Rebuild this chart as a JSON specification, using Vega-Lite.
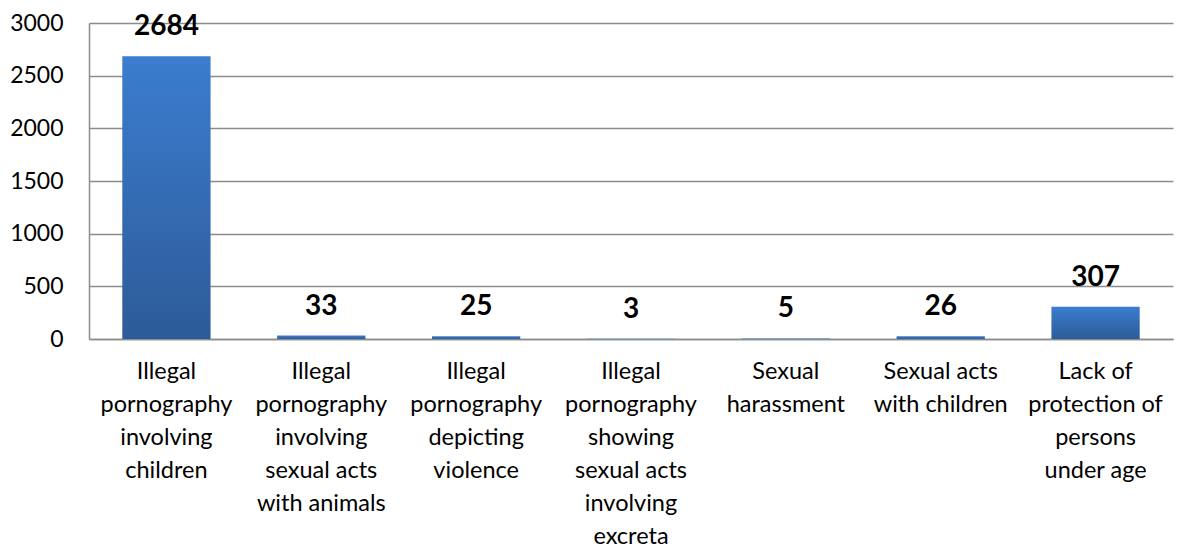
{
  "$schema": "https://vega.github.io/schema/vega-lite/v6.json",
  "autosize": "none",
  "width": 1084,
  "height": 316,
  "padding": {"left": 89, "top": 23, "right": 5, "bottom": 209},
  "background": "white",
  "data": {
    "values": [
      {"category": "Illegal|pornography|involving|children", "count": 2684},
      {"category": "Illegal|pornography|involving|sexual acts|with animals", "count": 33},
      {"category": "Illegal|pornography|depicting|violence", "count": 25},
      {"category": "Illegal|pornography|showing|sexual acts|involving|excreta", "count": 3},
      {"category": "Sexual|harassment", "count": 5},
      {"category": "Sexual acts|with children", "count": 26},
      {"category": "Lack of|protection of|persons|under age", "count": 307}
    ]
  },
  "encoding": {
    "x": {
      "field": "category",
      "type": "nominal",
      "sort": null,
      "scale": {"paddingInner": 0.43, "paddingOuter": 0.215},
      "axis": {
        "title": null,
        "labelAngle": 0,
        "labelExpr": "split(datum.label, '|')",
        "labelFont": "Lato",
        "labelFontSize": 23.5,
        "labelColor": "#000000",
        "labelLineHeight": 33,
        "labelBaseline": "middle",
        "labelPadding": 32,
        "labelLimit": 0,
        "ticks": false,
        "domainColor": "#8c8c8c",
        "domainWidth": 1.5,
        "grid": false
      }
    },
    "y": {
      "field": "count",
      "type": "quantitative",
      "scale": {"domain": [0, 3000], "nice": false},
      "axis": {
        "title": null,
        "format": "d",
        "values": [0, 500, 1000, 1500, 2000, 2500, 3000],
        "labelFont": "Lato",
        "labelFontSize": 23,
        "labelColor": "#000000",
        "labelPadding": 26,
        "ticks": false,
        "domainColor": "#8c8c8c",
        "domainWidth": 1.5,
        "gridColor": "#8c8c8c",
        "gridWidth": 1.5
      }
    }
  },
  "layer": [
    {
      "mark": {
        "type": "bar",
        "color": {
          "gradient": "linear",
          "x1": 0, "y1": 0, "x2": 0, "y2": 1,
          "stops": [
            {"offset": 0, "color": "#3b7dcf"},
            {"offset": 1, "color": "#2d5b98"}
          ]
        }
      }
    },
    {
      "mark": {
        "type": "text",
        "font": "Lato",
        "fontSize": 28,
        "fontWeight": "bold",
        "color": "#000000",
        "baseline": "alphabetic",
        "dy": -21
      },
      "encoding": {"text": {"field": "count", "type": "quantitative"}}
    }
  ],
  "config": {"view": {"stroke": null}}
}
